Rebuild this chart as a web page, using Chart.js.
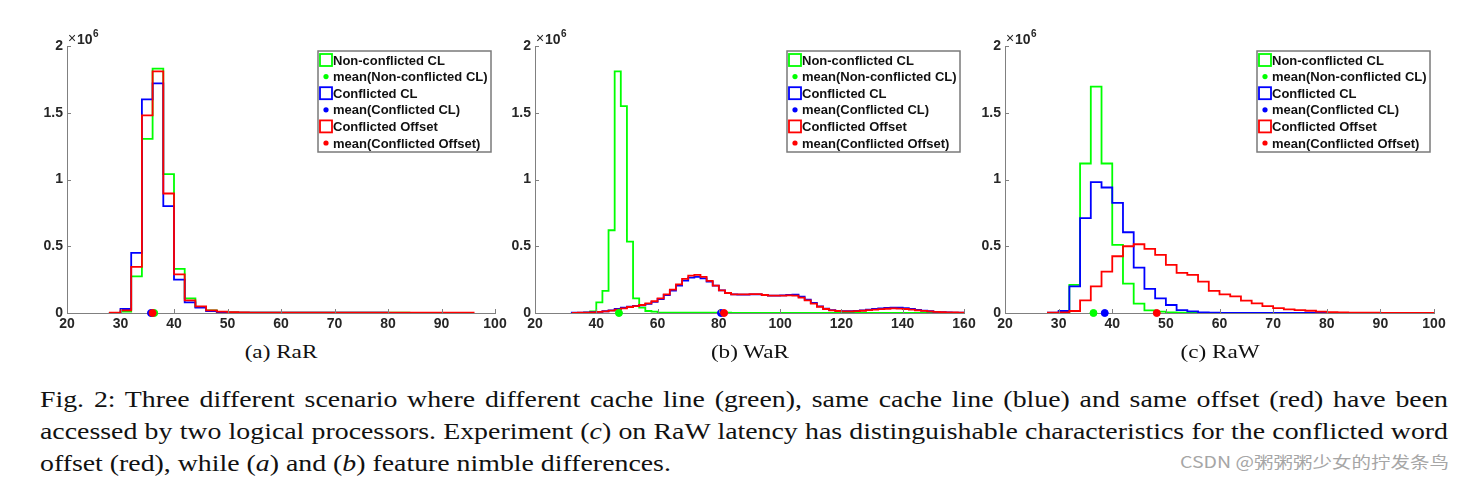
<!DOCTYPE html>
<html>
<head>
<meta charset="utf-8">
<script src="https://cdn.jsdelivr.net/npm/chart.js@4.4.0/dist/chart.umd.min.js"></script>
<style>
  body { margin: 0; background: #fff; width: 1465px; height: 480px; position: relative; overflow: hidden; }
  canvas { position: absolute; }
  .sub { position: absolute; top: 341px; font: 19px "Liberation Serif", serif; color: #111; transform: translateX(-50%) scaleX(1.22); white-space: nowrap; }
  .cap { position: absolute; left: 40px; width: 1164px; font: 23px "Liberation Serif", serif; color: #111; line-height: 32px;
         transform: scaleX(1.2096); transform-origin: 0 0; }
  .cap div { text-align: justify; text-align-last: justify; white-space: nowrap; }
  .cap div.last { text-align: left; text-align-last: left; }
  .wm { position: absolute; left: 1180px; top: 449px; font: 16px "Noto Sans CJK SC", sans-serif; color: #a6a6a6; white-space: nowrap;
        transform: scaleX(1.22); transform-origin: 0 0; }
</style>
</head>
<body>
<canvas id="cA" width="490" height="320" style="left:20px;top:20px"></canvas>
<canvas id="cB" width="491" height="320" style="left:488px;top:20px"></canvas>
<canvas id="cC" width="491" height="320" style="left:958px;top:20px"></canvas>

<div class="sub" style="left:281px">(a) RaR</div>
<div class="sub" style="left:750px">(b) WaR</div>
<div class="sub" style="left:1220px">(c) RaW</div>

<div class="cap" style="top:384px">
  <div>Fig. 2: Three different scenario where different cache line (green), same cache line (blue) and same offset (red) have been</div>
  <div>accessed by two logical processors. Experiment (<i>c</i>) on RaW latency has distinguishable characteristics for the conflicted word</div>
  <div class="last">offset (red), while (<i>a</i>) and (<i>b</i>) feature nimble differences.</div>
</div>
<div class="wm">CSDN @粥粥粥少女的拧发条鸟</div>

<script>
// histogram counts in units of 10^6, bin width 2
const binWidth = 2;
const legendLabels = ['Non-conflicted CL', 'mean(Non-conflicted CL)', 'Conflicted CL',
                      'mean(Conflicted CL)', 'Conflicted Offset', 'mean(Conflicted Offset)'];
const colors = ['#00ff00', '#0000ff', '#ff0000'];

// (a) RaR, bins start at 28
const rarStart = 28;
const rarGreen = [0.001, 0.01, 0.275, 1.305, 1.83, 1.04, 0.33, 0.11, 0.045, 0.02, 0.008, 0.005, 0.003,
                  0.002, 0.002, 0.002, 0.002, 0.002, 0.002, 0.002, 0.002, 0.002, 0.002, 0.002, 0.002, 0.002, 0.002, 0.002];
const rarBlue = [0.001, 0.03, 0.45, 1.6, 1.72, 0.8, 0.25, 0.08, 0.04, 0.015, 0.005, 0.003,
                 0.002, 0.002, 0.002, 0.002, 0.002, 0.002, 0.002, 0.002, 0.002, 0.002, 0.002, 0.002, 0.002, 0.002];
const rarRed = [0.003, 0.02, 0.345, 1.48, 1.81, 0.895, 0.29, 0.095, 0.05, 0.02, 0.01, 0.006, 0.004,
                0.002, 0.002, 0.002, 0.002, 0.002, 0.002, 0.002, 0.002, 0.002, 0.002, 0.002, 0.002, 0.002,
                0.002, 0.002, 0.002, 0.002, 0.002, 0.002, 0.002, 0.002];
const rarMeans = [36.3, 35.7, 36.0];

// (b) WaR
const warGreenStart = 36;
const warGreen = [0.002, 0.012, 0.08, 0.165, 0.62, 1.81, 1.55, 0.535, 0.11, 0.04, 0.015, 0.01,
                  0.002, 0.002, 0.002, 0.002, 0.002, 0.002, 0.002, 0.002, 0.002, 0.002, 0.002, 0.002,
                  0.001, 0.001, 0.001, 0.001, 0.001, 0.001, 0.001, 0.001, 0.001, 0.001, 0.001, 0.001,
                  0.001, 0.001, 0.001, 0.001, 0.001, 0.001, 0.001, 0.001, 0.001, 0.001, 0.001, 0.001,
                  0.001, 0.001, 0.001, 0.001, 0.001, 0.001, 0.001, 0.001, 0.001, 0.001, 0.001, 0.001,
                  0.001, 0.001];
const warStart = 32;
const warBlue = [0.002, 0.003, 0.004, 0.006, 0.009, 0.013, 0.02, 0.03, 0.04, 0.048, 0.053, 0.058,
                 0.068, 0.083, 0.105, 0.135, 0.168, 0.205, 0.243, 0.265, 0.27, 0.26, 0.235, 0.205,
                 0.17, 0.15, 0.14, 0.138, 0.138, 0.14, 0.14, 0.135, 0.13, 0.13, 0.132, 0.135,
                 0.137, 0.122, 0.1, 0.075, 0.05, 0.032, 0.021, 0.016, 0.013, 0.013, 0.016, 0.02,
                 0.025, 0.03, 0.035, 0.039, 0.041, 0.04, 0.036, 0.03, 0.024, 0.018, 0.013, 0.009,
                 0.006, 0.004, 0.003, 0.002];
const warRed = [0, 0.002, 0.003, 0.005, 0.008, 0.012, 0.018, 0.025, 0.035, 0.045, 0.052, 0.06,
                0.072, 0.088, 0.11, 0.14, 0.175, 0.215, 0.255, 0.28, 0.285, 0.27, 0.24, 0.205,
                0.17, 0.15, 0.14, 0.14, 0.14, 0.142, 0.142, 0.135, 0.13, 0.13, 0.13, 0.132,
                0.13, 0.115, 0.095, 0.07, 0.047, 0.03, 0.02, 0.015, 0.012, 0.012, 0.014, 0.017,
                0.021, 0.025, 0.029, 0.032, 0.034, 0.033, 0.03, 0.025, 0.02, 0.016, 0.012, 0.009,
                0.007, 0.005, 0.004, 0.003];
const warMeans = [47.4, 80.7, 81.7];

// (c) RaW, bins start at 28
const rawStart = 28;
const rawGreen = [0.001, 0.005, 0.21, 1.12, 1.695, 1.12, 0.51, 0.22, 0.07, 0.02, 0.01, 0.005, 0.003,
                  0.001, 0.001, 0.001, 0.001, 0.001, 0.001, 0.001, 0.001, 0.001, 0.001, 0.001, 0.001,
                  0.001, 0.001, 0.001, 0.001, 0.001, 0.001, 0.001];
const rawBlue = [0.002, 0.015, 0.2, 0.71, 0.98, 0.94, 0.825, 0.605, 0.34, 0.18, 0.11, 0.06, 0.022,
                 0.012, 0.004, 0.002, 0.001, 0.001, 0.001, 0.001, 0.001, 0.001, 0.001, 0.001, 0.001,
                 0.001, 0.001, 0.001, 0.001, 0.001];
const rawRed = [0.002, 0.005, 0.015, 0.095, 0.2, 0.31, 0.425, 0.5, 0.515, 0.48, 0.435, 0.36,
                0.3, 0.285, 0.235, 0.165, 0.14, 0.125, 0.092, 0.072, 0.052, 0.037, 0.027, 0.022,
                0.017, 0.01, 0.006, 0.005, 0.003, 0.002, 0.002, 0.001, 0.001, 0.001, 0.001, 0.001];
const rawMeans = [36.5, 38.6, 48.3];

// outline of a histogram (MATLAB 'stairs' style)
function stairs(start, vals) {
    const end = start + vals.length * binWidth;
    const pts = [{ x: start, y: 0 }];
    vals.forEach((v, i) => pts.push({ x: start + i * binWidth, y: v }));
    pts.push({ x: end, y: vals[vals.length - 1] });
    pts.push({ x: end, y: 0 });
    return pts;
}

const tickFont = { family: 'Liberation Sans', size: 14, weight: 'bold' };

const decor = {
    id: 'decor',
    afterDraw(chart) {
        const ctx = chart.ctx;
        const area = chart.chartArea;
        const xs = chart.scales.x, ys = chart.scales.y;
        ctx.save();
        // inward tick marks
        ctx.strokeStyle = '#808080';
        ctx.lineWidth = 1;
        ctx.beginPath();
        xs.ticks.forEach(t => {
            const px = Math.round(xs.getPixelForValue(t.value)) + 0.5;
            ctx.moveTo(px, area.bottom);
            ctx.lineTo(px, area.bottom - 4);
        });
        ys.ticks.forEach(t => {
            const py = Math.round(ys.getPixelForValue(t.value)) + 0.5;
            ctx.moveTo(area.left, py);
            ctx.lineTo(area.left + 4, py);
        });
        ctx.stroke();

        // exponent label
        ctx.fillStyle = '#262626';
        ctx.textBaseline = 'alphabetic';
        ctx.font = '14px "Liberation Sans"';
        ctx.fillText('\u00d7', area.left + 1, area.top - 3);
        ctx.font = 'bold 14px "Liberation Sans"';
        ctx.fillText('10', area.left + 10, area.top - 2);
        ctx.font = 'bold 10px "Liberation Sans"';
        ctx.fillText('6', area.left + 26, area.top - 9);

        // legend box
        const lw = 173, lh = 101;
        const lx = area.right - 177, ly = area.top + 5;
        ctx.fillStyle = '#fff';
        ctx.fillRect(lx, ly, lw, lh);
        ctx.strokeStyle = '#7a7a7a';
        ctx.lineWidth = 1.5;
        ctx.strokeRect(lx, ly, lw, lh);
        ctx.font = 'bold 13px "Liberation Sans"';
        ctx.textBaseline = 'middle';
        legendLabels.forEach((lab, i) => {
            const cy = ly + 9 + i * 16.6;
            const col = colors[Math.floor(i / 2)];
            if (i % 2 === 0) {
                ctx.strokeStyle = col;
                ctx.lineWidth = 1.8;
                ctx.strokeRect(lx + 2, cy - 6, 12, 12);
            } else {
                ctx.fillStyle = col;
                ctx.beginPath();
                ctx.arc(lx + 8, cy, 2.6, 0, Math.PI * 2);
                ctx.fill();
            }
            ctx.fillStyle = '#111';
            ctx.fillText(lab, lx + 15, cy + 1);
        });
        ctx.restore();
    }
};

function makeChart(id, series, means, xMax, xStep) {
    const datasets = series.map((s, i) => ({
        type: 'line',
        data: stairs(s.start, s.vals),
        stepped: 'before',
        borderColor: colors[i],
        borderWidth: 1.8,
        pointRadius: 0,
        fill: false,
        order: 3 - i
    }));
    means.forEach((m, i) => datasets.push({
        type: 'scatter',
        data: [{ x: m, y: 0 }],
        backgroundColor: colors[i],
        borderColor: colors[i],
        pointRadius: 3.5,
        clip: false,
        order: -i
    }));
    return new Chart(document.getElementById(id), {
        type: 'line',
        data: { datasets },
        options: {
            responsive: false,
            animation: false,
            layout: { padding: { left: 0, right: 15, top: 26, bottom: 0 } },
            scales: {
                x: {
                    type: 'linear', min: 20, max: xMax,
                    ticks: { stepSize: xStep, font: tickFont, color: '#262626', padding: 3 },
                    grid: { drawOnChartArea: false, drawTicks: false },
                    border: { color: '#808080' },
                    afterFit: s => { s.height = 27; }
                },
                y: {
                    min: 0, max: 2,
                    ticks: { stepSize: 0.5, font: tickFont, color: '#262626', padding: 4,
                             callback: v => String(v) },
                    grid: { drawOnChartArea: false, drawTicks: false },
                    border: { color: '#808080' },
                    afterFit: s => { s.width = 47; }
                }
            },
            plugins: { legend: { display: false }, tooltip: { enabled: false } }
        },
        plugins: [decor]
    });
}

makeChart('cA', [
    { start: rarStart, vals: rarGreen },
    { start: rarStart, vals: rarBlue },
    { start: rarStart, vals: rarRed }
], rarMeans, 100, 10);

makeChart('cB', [
    { start: warGreenStart, vals: warGreen },
    { start: warStart, vals: warBlue },
    { start: warStart, vals: warRed }
], warMeans, 160, 20);

makeChart('cC', [
    { start: rawStart, vals: rawGreen },
    { start: rawStart, vals: rawBlue },
    { start: rawStart, vals: rawRed }
], rawMeans, 100, 10);
</script>
</body>
</html>
